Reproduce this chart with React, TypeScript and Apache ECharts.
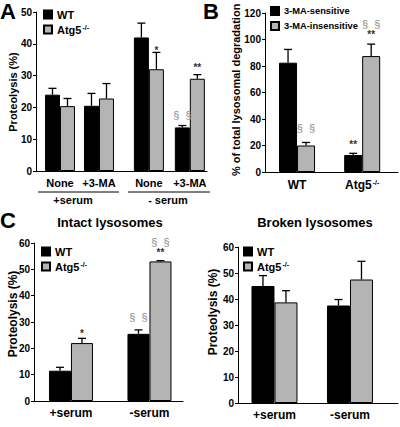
import React, { useEffect, useRef } from 'react';
import * as echarts from 'echarts';

const FONT = 'Arial, "Liberation Sans", Helvetica, sans-serif';

// ---------- Panel A ----------
const aCategories = ['None', '+3-MA', 'None', '+3-MA'];
const aPositions = [1, 2, 3.28, 4.33];
const aGroups = ['+serum', '- serum'];
const aWT = [24, 20.5, 42, 13.7];
const aWTErr = [2, 3.9, 4.5, 0.6];
const aKO = [20.4, 22.8, 32, 29];
const aKOErr = [2.4, 4.7, 5.3, 1.3];
// [category index, series (0 WT / 1 Atg5), y value, text]
const aNotes: [number, number, number, string][] = [
  [2, 1, 38, '*'],
  [3, 1, 32.5, '**'],
  [3, 0, 17.5, '§ §'],
];

// ---------- Panel B ----------
const bCategories = ['WT', 'Atg5-/-'];
const bPositions = [1, 2];
const bSensitive = [82.5, 12.8];
const bSensitiveErr = [10, 1.3];
const bInsensitive = [20, 87.5];
const bInsensitiveErr = [2.3, 9];
const bNotes: [number, number, number, string][] = [
  [0, 1, 33, '§ §'],
  [1, 0, 21, '**'],
  [1, 1, 104, '**'],
  [1, 1, 112, '§ §'],
];

// ---------- Panel C ----------
const cCategories = ['+serum', '-serum'];
const cPositions = [1, 2];
const cIntactWT = [11.5, 25.5];
const cIntactWTErr = [1.3, 1.5];
const cIntactKO = [22, 53];
const cIntactKOErr = [1.8, 0.3];
const cIntactNotes: [number, number, number, string][] = [
  [0, 1, 25.5, '*'],
  [1, 0, 32, '§ §'],
  [1, 1, 56.5, '**'],
  [1, 1, 60.5, '§ §'],
];
const cBrokenWT = [45, 37.5];
const cBrokenWTErr = [4, 2.3];
const cBrokenKO = [38.7, 47.5];
const cBrokenKOErr = [4.5, 7];
const cBrokenNotes: [number, number, number, string][] = [];

const BLACK = '#000000';
const GREY = '#b4b4b4';

type Panel = {
  grid: { left: number; top: number; width: number; height: number };
  xMin: number;
  xMax: number;
  yMax: number;
  interval: number;
  positions: number[];
  categories: string[];
  names: [string, string];
  s0: number[];
  s0Err: number[];
  s1: number[];
  s1Err: number[];
  notes: [number, number, number, string][];
  bw: number;
  labelSize: number;
  labelMargin: number;
};

const panels: Panel[] = [
  {
    grid: { left: 36, top: 12, width: 171, height: 159 },
    xMin: 0.385, xMax: 4.77, yMax: 50, interval: 10,
    positions: aPositions, categories: aCategories, names: ['WT', 'Atg5-/-'],
    s0: aWT, s0Err: aWTErr, s1: aKO, s1Err: aKOErr, notes: aNotes,
    bw: 15, labelSize: 11, labelMargin: 6,
  },
  {
    grid: { left: 265, top: 13, width: 133, height: 159 },
    xMin: 0.508, xMax: 2.55, yMax: 120, interval: 20,
    positions: bPositions, categories: bCategories, names: ['3-MA-sensitive', '3-MA-insensitive'],
    s0: bSensitive, s0Err: bSensitiveErr, s1: bInsensitive, s1Err: bInsensitiveErr, notes: bNotes,
    bw: 18, labelSize: 12, labelMargin: 7,
  },
  {
    grid: { left: 34, top: 243, width: 149, height: 158 },
    xMin: 0.529, xMax: 2.427, yMax: 60, interval: 10,
    positions: cPositions, categories: cCategories, names: ['WT', 'Atg5-/-'],
    s0: cIntactWT, s0Err: cIntactWTErr, s1: cIntactKO, s1Err: cIntactKOErr, notes: cIntactNotes,
    bw: 22, labelSize: 12, labelMargin: 6,
  },
  {
    grid: { left: 238, top: 247, width: 160, height: 156 },
    xMin: 0.517, xMax: 2.636, yMax: 60, interval: 10,
    positions: cPositions, categories: cCategories, names: ['WT', 'Atg5-/-'],
    s0: cBrokenWT, s0Err: cBrokenWTErr, s1: cBrokenKO, s1Err: cBrokenKOErr, notes: cBrokenNotes,
    bw: 23, labelSize: 12, labelMargin: 6,
  },
];

const supLabel = (name: string) =>
  name.endsWith('-/-') ? `{n|${name.slice(0, -3)}}{s|-/-}` : `{n|${name}}`;

const richFor = (size: number) => ({
  n: { fontFamily: FONT, fontWeight: 'bold', fontSize: size, color: '#000' },
  s: { fontFamily: FONT, fontWeight: 'bold', fontSize: Math.round(size * 0.6), color: '#000', verticalAlign: 'top', padding: [0, 0, 0, 1] },
});

function buildOption() {
  const grids: any[] = [];
  const xAxes: any[] = [];
  const yAxes: any[] = [];
  const series: any[] = [];

  panels.forEach((p, i) => {
    grids.push({ ...p.grid, containLabel: false });
    xAxes.push({
      type: 'value',
      gridIndex: i,
      min: p.xMin,
      max: p.xMax,
      splitLine: { show: false },
      axisTick: { show: false },
      axisLine: { show: true, onZero: false, lineStyle: { color: BLACK, width: 1 } },
      axisLabel: {
        show: true,
        customValues: p.positions,
        margin: p.labelMargin,
        formatter: (v: number) => {
          const k = p.positions.findIndex((q) => Math.abs(q - v) < 1e-6);
          return k >= 0 ? supLabel(p.categories[k]) : '';
        },
        rich: richFor(p.labelSize),
      },
    });
    yAxes.push({
      type: 'value',
      gridIndex: i,
      min: 0,
      max: p.yMax,
      interval: p.interval,
      splitLine: { show: false },
      axisLine: { show: true, lineStyle: { color: BLACK, width: 1 } },
      axisTick: { show: true, length: 3, lineStyle: { color: BLACK } },
      axisLabel: { color: BLACK, fontFamily: FONT, fontWeight: 'bold', fontSize: 10, margin: 4 },
    });

    const mk = (vals: number[]) => vals.map((v, j) => [p.positions[j], v]);
    series.push({
      type: 'bar', name: p.names[0], xAxisIndex: i, yAxisIndex: i,
      data: mk(p.s0), barWidth: p.bw, barGap: '0%',
      itemStyle: { color: BLACK, borderColor: BLACK, borderWidth: 1 },
    });
    series.push({
      type: 'bar', name: p.names[1], xAxisIndex: i, yAxisIndex: i,
      data: mk(p.s1), barWidth: p.bw, barGap: '0%',
      itemStyle: { color: GREY, borderColor: BLACK, borderWidth: 1 },
    });

    const errData: number[][] = [];
    p.s0.forEach((v, j) => errData.push([p.positions[j], v, p.s0Err[j], 0]));
    p.s1.forEach((v, j) => errData.push([p.positions[j], v, p.s1Err[j], 1]));
    series.push({
      type: 'custom', name: 'err' + i, xAxisIndex: i, yAxisIndex: i, z: 5,
      clip: false, silent: true,
      data: errData,
      encode: { x: 0, y: 1 },
      renderItem: (_params: any, api: any) => {
        const x = api.value(0), v = api.value(1), e = api.value(2), s = api.value(3);
        const base = api.coord([x, v]);
        const top = api.coord([x, v + e]);
        const dx = s === 0 ? -p.bw / 2 : p.bw / 2;
        const cx = base[0] + dx;
        return {
          type: 'group',
          children: [
            { type: 'line', shape: { x1: cx, y1: base[1], x2: cx, y2: top[1] }, style: { stroke: BLACK, lineWidth: 1.3 } },
            { type: 'line', shape: { x1: cx - 4, y1: top[1], x2: cx + 4, y2: top[1] }, style: { stroke: BLACK, lineWidth: 1.3 } },
          ],
        };
      },
    });

    if (p.notes.length) {
      series.push({
        type: 'custom', name: 'notes' + i, xAxisIndex: i, yAxisIndex: i, z: 6,
        clip: false, silent: true,
        data: p.notes.map((n) => [p.positions[n[0]], n[2], n[1]]),
        encode: { x: 0, y: 1 },
        renderItem: (params: any, api: any) => {
          const note = p.notes[params.dataIndex];
          const pt = api.coord([api.value(0), api.value(1)]);
          const dx = api.value(2) === 0 ? -p.bw / 2 : p.bw / 2;
          const isSec = note[3].includes('§');
          return {
            type: 'text',
            x: pt[0] + dx,
            y: pt[1],
            style: {
              text: isSec ? '§  §' : note[3],
              fill: isSec ? '#8a8a8a' : '#333333',
              font: `${isSec ? 'normal 11px' : 'bold 10px'} ${FONT}`,
              textAlign: 'center',
              textVerticalAlign: 'middle',
            },
          };
        },
      });
    }
  });

  const legendBase = {
    orient: 'vertical',
    icon: 'rect',
    itemWidth: 8,
    itemHeight: 8,
    itemGap: 4,
    selectedMode: false,
    padding: 0,
    formatter: (name: string) => supLabel(name),
  };
  const legends = [
    { ...legendBase, left: 43, top: 9, data: ['WT', 'Atg5-/-'], textStyle: { rich: richFor(11) } },
    { ...legendBase, left: 270, top: 6, itemGap: 5, data: ['3-MA-sensitive', '3-MA-insensitive'], textStyle: { rich: richFor(9.3) } },
    { ...legendBase, left: 41, top: 246, data: ['WT', 'Atg5-/-'], textStyle: { rich: richFor(11) } },
    { ...legendBase, left: 243, top: 246, data: ['WT', 'Atg5-/-'], textStyle: { rich: richFor(11) } },
  ];

  const txt = (text: string, x: number, y: number, font: string) => ({
    type: 'text', x, y, silent: true,
    style: { text, font, fill: '#000', textAlign: 'center', textVerticalAlign: 'middle' },
  });

  const graphic: any[] = [
    { type: 'text', x: 0, y: 0, style: { text: 'A', font: `bold 22px ${FONT}`, fill: '#000' } },
    { type: 'text', x: 203, y: 0, style: { text: 'B', font: `bold 22px ${FONT}`, fill: '#000' } },
    { type: 'text', x: 0, y: 209, style: { text: 'C', font: `bold 22px ${FONT}`, fill: '#000' } },
    txt('Intact lysosomes', 110, 222, `bold 13px ${FONT}`),
    txt('Broken lysosomes', 315, 222, `bold 13px ${FONT}`),
    { ...txt('Proteolysis (%)', 13, 92, `bold 11px ${FONT}`), rotation: Math.PI / 2 },
    { type: 'text', x: 236, y: 176, rotation: Math.PI / 2, silent: true,
      style: { text: '% of total lysosomal degradation', font: `bold 11px ${FONT}`, fill: '#000', textAlign: 'left', textVerticalAlign: 'middle' } },
    { ...txt('Proteolysis (%)', 13, 314, `bold 12px ${FONT}`), rotation: Math.PI / 2 },
    { ...txt('Proteolysis (%)', 213, 312, `bold 12px ${FONT}`), rotation: Math.PI / 2 },
    { type: 'line', shape: { x1: 38, y1: 192, x2: 119, y2: 192 }, style: { stroke: '#000', lineWidth: 1 } },
    { type: 'line', shape: { x1: 128, y1: 192, x2: 210, y2: 192 }, style: { stroke: '#000', lineWidth: 1 } },
    txt(aGroups[0], 73, 200, `bold 11px ${FONT}`),
    txt(aGroups[1], 168, 200, `bold 11px ${FONT}`),
  ];

  return {
    animation: false,
    backgroundColor: '#ffffff',
    grid: grids,
    xAxis: xAxes,
    yAxis: yAxes,
    legend: legends,
    series,
    graphic,
  };
}

export default function App() {
  const ref = useRef<HTMLDivElement>(null);
  useEffect(() => {
    if (!ref.current) return;
    const chart = echarts.init(ref.current, undefined, { renderer: 'svg' });
    chart.setOption(buildOption() as any);
    return () => chart.dispose();
  }, []);
  return (
    <div
      ref={ref}
      style={{ position: 'absolute', left: 0, top: 0, width: 400, height: 427, background: '#fff' }}
    />
  );
}
